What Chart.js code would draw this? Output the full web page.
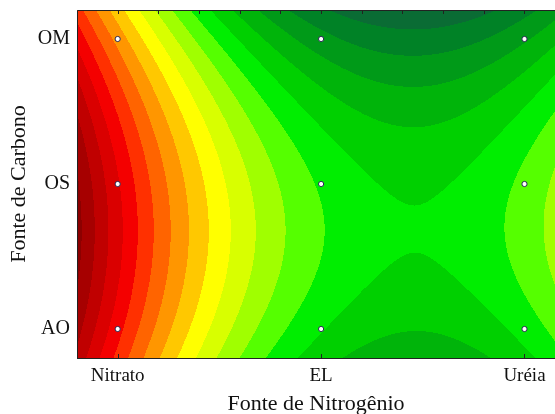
<!DOCTYPE html>
<html>
<head>
<meta charset="utf-8">
<script src="https://cdn.jsdelivr.net/npm/chart.js@4"></script>
<style>
  body { margin: 0; background: #fff; }
  canvas { display: block; }
</style>
</head>
<body>
<canvas id="surfaceChart" width="555" height="414"></canvas>
<script>
// Factor levels (coded -1, 0, 1)
const nitrogenSources = ["Nitrato", "EL", "Uréia"];
const carbonSources = ["AO", "OS", "OM"];
const codedLevels = [-1, 0, 1];

// Response read at the nine design points (rows: AO, OS, OM; cols: Nitrato, EL, Uréia)
const responseAO = [-8.37, 0.91, 0.6];
const responseOS = [-9.13, 0.14, -0.28];
const responseOM = [-5.64, 3.63, 3.15];

// Contour levels (lower bound of each filled band) and their colours
const contourLevels = [-13, -12, -11, -10, -9, -8, -7, -6, -5, -4, -3, -2, -1, 0, 1, 2, 3, 4, 5];
const bandColors = [
  "#8c0000", "#a60000", "#c00000", "#da0000", "#f40000", "#ff3000", "#ff6400",
  "#ff9600", "#ffc800", "#ffff00", "#d8ff00", "#a0ff00", "#55ff00", "#00ee00",
  "#00d000", "#00b40a", "#009a18", "#008226", "#0a6c34"
];

// Inward tick marks along the top frame
const topTicks = [-1, -0.8, -0.6, -0.4, -0.2, 0, 0.2, 0.4, 0.6, 0.8, 1];

const responses = [responseAO, responseOS, responseOM];

// quadratic response surface through the 3x3 runs
function basis(t) {
  return [t * (t - 1) / 2, 1 - t * t, t * (t + 1) / 2];
}
function surface(xv, yv) {
  const bx = basis(xv), by = basis(yv);
  let s = 0;
  for (let i = 0; i < 3; i++)
    for (let j = 0; j < 3; j++)
      s += by[i] * bx[j] * responses[i][j];
  return s;
}

function hexToRgb(h) {
  return [parseInt(h.slice(1, 3), 16), parseInt(h.slice(3, 5), 16), parseInt(h.slice(5, 7), 16)];
}
const bandRgb = bandColors.map(hexToRgb);

function bandFor(v) {
  let k = 0;
  for (let i = 0; i < contourLevels.length; i++) {
    if (v >= contourLevels[i]) k = i;
  }
  return k;
}

const contourPlugin = {
  id: "contourFill",
  beforeDatasetsDraw(chart) {
    const { ctx, chartArea: a, scales: { x, y } } = chart;
    const w = Math.round(a.right - a.left), h = Math.round(a.bottom - a.top);
    const off = document.createElement("canvas");
    off.width = w; off.height = h;
    const octx = off.getContext("2d");
    const img = octx.createImageData(w, h);
    for (let j = 0; j < h; j++) {
      const yv = y.getValueForPixel(a.top + j + 0.5);
      for (let i = 0; i < w; i++) {
        const xv = x.getValueForPixel(a.left + i + 0.5);
        const c = bandRgb[bandFor(surface(xv, yv))];
        const p = (j * w + i) * 4;
        img.data[p] = c[0]; img.data[p + 1] = c[1]; img.data[p + 2] = c[2]; img.data[p + 3] = 255;
      }
    }
    octx.putImageData(img, 0, 0);
    ctx.drawImage(off, a.left, a.top);
  },
  afterDraw(chart) {
    const { ctx, chartArea: a, scales: { x } } = chart;
    ctx.save();
    ctx.strokeStyle = "#222";
    ctx.lineWidth = 1;
    ctx.beginPath();
    ctx.moveTo(a.left + 0.5, a.bottom + 0.5);
    ctx.lineTo(a.left + 0.5, a.top + 0.5);
    ctx.lineTo(a.right, a.top + 0.5);
    ctx.moveTo(a.left, a.bottom + 0.5);
    ctx.lineTo(a.right, a.bottom + 0.5);
    topTicks.forEach(t => {
      const px = Math.round(x.getPixelForValue(t)) + 0.5;
      ctx.moveTo(px, a.top);
      ctx.lineTo(px, a.top + 4);
    });
    codedLevels.forEach(t => {
      const px = Math.round(x.getPixelForValue(t)) + 0.5;
      ctx.moveTo(px, a.bottom);
      ctx.lineTo(px, a.bottom - 4);
    });
    ctx.stroke();
    ctx.restore();
  }
};

const designPoints = [];
carbonSources.forEach((c, i) => {
  nitrogenSources.forEach((n, j) => {
    designPoints.push({ x: codedLevels[j], y: codedLevels[i] });
  });
});

const serif = "'Liberation Serif', 'Times New Roman', serif";

new Chart(document.getElementById("surfaceChart"), {
  type: "scatter",
  data: {
    datasets: [{
      data: designPoints,
      pointRadius: 2.6,
      pointBackgroundColor: "#ffffff",
      pointBorderColor: "#2b2b55",
      pointBorderWidth: 1
    }]
  },
  options: {
    responsive: false,
    animation: false,
    layout: { autoPadding: false, padding: { top: 10, right: 0, left: 0, bottom: 0 } },
    plugins: { legend: { display: false }, tooltip: { enabled: false } },
    scales: {
      x: {
        type: "linear",
        min: -1.2,
        max: 1.15,
        afterBuildTicks: s => { s.ticks = codedLevels.map(v => ({ value: v })); },
        afterFit: s => { s.height = 56; s.paddingLeft = 0; s.paddingRight = 0; },
        grid: { display: false, drawTicks: false },
        border: { display: false },
        ticks: {
          padding: 7,
          color: "#111",
          font: { family: serif, size: 19 },
          callback: v => nitrogenSources[Math.round(v) + 1]
        },
        title: {
          display: true,
          text: "Fonte de Nitrogênio",
          color: "#111",
          font: { family: serif, size: 22 },
          padding: { top: 0, bottom: -3 }
        }
      },
      y: {
        type: "linear",
        min: -1.2,
        max: 1.2,
        afterBuildTicks: s => { s.ticks = codedLevels.map(v => ({ value: v })); },
        afterFit: s => { s.width = 77; s.paddingTop = 0; s.paddingBottom = 0; },
        grid: { display: false, drawTicks: false },
        border: { display: false },
        ticks: {
          padding: 7,
          color: "#111",
          font: { family: serif, size: 20 },
          callback: v => carbonSources[Math.round(v) + 1]
        },
        title: {
          display: true,
          text: "Fonte de Carbono",
          color: "#111",
          font: { family: serif, size: 22 },
          padding: { top: 6, bottom: 0 }
        }
      }
    }
  },
  plugins: [contourPlugin]
});
</script>
</body>
</html>
